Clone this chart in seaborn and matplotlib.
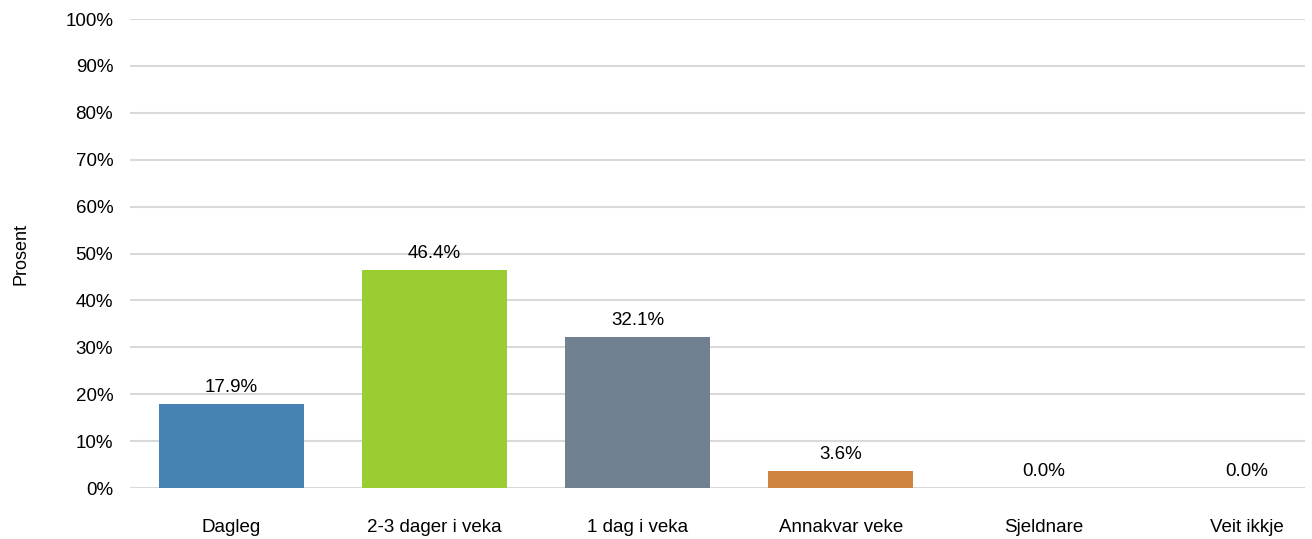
import pandas as pd
import seaborn as sns
import matplotlib.pyplot as plt
from matplotlib.ticker import PercentFormatter

categories = ["Dagleg", "2-3 dager i veka", "1 dag i veka", "Annakvar veke", "Sjeldnare", "Veit ikkje"]
values = [17.9, 46.4, 32.1, 3.6, 0.0, 0.0]
colors = ["#4682B4", "#9ACD32", "#708090", "#CD853F", "#4682B4", "#4682B4"]

sns.set_style("white")
plt.rcParams["font.family"] = ["Liberation Sans", "DejaVu Sans"]

data = pd.DataFrame({"kategori": categories, "prosent": values})

fig = plt.figure(figsize=(13.12, 5.39), dpi=100)
ax = fig.add_axes([0.099, 0.0946, 0.8957, 0.8701])
sns.barplot(data=data, x="kategori", y="prosent", hue="kategori", palette=colors,
            legend=False, width=0.714, saturation=1, linewidth=0, ax=ax, zorder=3)

ax.set_xlim(-0.5, 5.286)
ax.set_ylim(0, 100)
ax.set_yticks(range(0, 101, 10))
ax.yaxis.set_major_formatter(PercentFormatter(decimals=0))
ax.grid(axis="y", color="#d9d9d9", linewidth=1.5, zorder=0)
ax.set_axisbelow(True)
sns.despine(ax=ax, left=True, bottom=True)
ax.tick_params(axis="both", length=0, labelsize=13.5, colors="black")
ax.tick_params(axis="x", pad=22)
ax.tick_params(axis="y", pad=12)
ax.set_xlabel("")
ax.set_ylabel("Prosent", fontsize=13, labelpad=26, color="black")

for cont in ax.containers:
    ax.bar_label(cont, labels=[f"{v:.1f}%" for v in cont.datavalues], padding=6,
                 fontsize=13.5, color="black")

fig.savefig("out.png", dpi=100)
